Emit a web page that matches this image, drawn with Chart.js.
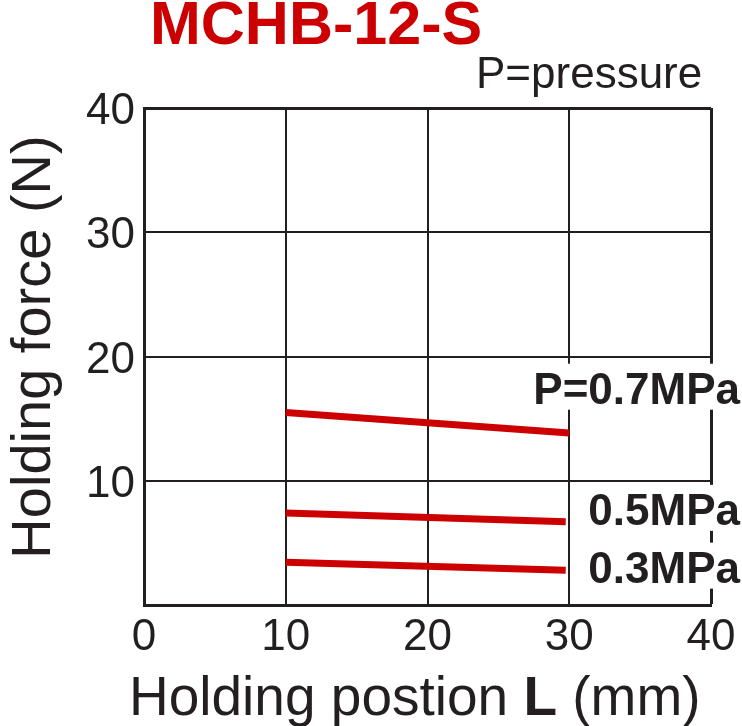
<!DOCTYPE html>
<html>
<head>
<meta charset="utf-8">
<script src="https://cdn.jsdelivr.net/npm/chart.js@4"></script>
<style>
  html, body { margin: 0; padding: 0; background: #fff; }
  #wrap { width: 742px; height: 726px; position: relative; }
</style>
</head>
<body>
<div id="wrap"><canvas id="chart" width="742" height="726"></canvas></div>
<script>
// DATA
const xTicks = [0, 10, 20, 30, 40];
const yTicks = [0, 10, 20, 30, 40];
const yTickLabels = ['', '10', '20', '30', '40']; // no "0" on the y axis

const pos07 = [10, 30];
const force07 = [15.5, 13.85];

const pos05 = [10, 29.75];
const force05 = [7.4, 6.7];

const pos03 = [10, 29.75];
const force03 = [3.45, 2.8];

const seriesLabels = ['P=0.7MPa', '0.5MPa', '0.3MPa'];
const labelBaseline = [16.2, 6.45, 1.8]; // y value where each label sits

var ink = '#231f20';
var red = '#cc0000';
var fam = '"Liberation Sans", Arial, Helvetica, sans-serif';

function pts(xs, ys) {
    return xs.map((x, i) => ({x: x, y: ys[i]}));
}

function lineSet(label, xs, ys) {
    return {
        label: label,
        data: pts(xs, ys),
        showLine: true,
        borderColor: red,
        borderWidth: 7,
        borderCapStyle: 'butt',
        pointRadius: 0,
        fill: false,
    };
}

// titles, labels, frame bits
const decor = {
    id: 'decor',
    afterDraw(chart) {
        const c = chart.ctx;
        const ys = chart.scales.y;
        c.save();

        // series labels on a white box (cuts the frame like the original)
        c.font = 'bold 44px ' + fam;
        c.textAlign = 'right';
        c.textBaseline = 'alphabetic';
        seriesLabels.forEach((t, i) => {
            const by = ys.getPixelForValue(labelBaseline[i]);
            const w = c.measureText(t).width;
            c.fillStyle = '#fff';
            c.fillRect(740 - w - 4, by - 40, w + 8, 46);
            c.fillStyle = ink;
            c.fillText(t, 740, by);
        });

        // main title
        c.textAlign = 'left';
        c.fillStyle = red;
        c.font = 'bold 61px ' + fam;
        c.fillText('MCHB-12-S', 150, 44);

        // P=pressure
        c.fillStyle = ink;
        c.font = '44px ' + fam;
        c.fillText('P=pressure', 476, 88);

        // x axis title with bold L
        let x = 129;
        const yb = 715;
        const parts = [['Holding postion ', ''], ['L', 'bold '], [' (mm)', '']];
        parts.forEach(p => {
            c.font = p[1] + '55px ' + fam;
            c.fillText(p[0], x, yb);
            x += c.measureText(p[0]).width;
        });

        // y axis title
        c.translate(50, 347);
        c.rotate(-Math.PI / 2);
        c.textAlign = 'center';
        c.font = '56px ' + fam;
        c.fillText('Holding force (N)', 0, 0);

        c.restore();
    }
};

const ctx = document.getElementById('chart').getContext('2d');
new Chart(ctx, {
    type: 'scatter',
    data: {
        datasets: [
            lineSet(seriesLabels[0], pos07, force07),
            lineSet(seriesLabels[1], pos05, force05),
            lineSet(seriesLabels[2], pos03, force03),
        ]
    },
    options: {
        responsive: false,
        animation: false,
        layout: { padding: { top: 108, right: 31, left: 0, bottom: 0 } },
        scales: {
            x: {
                type: 'linear',
                min: 0, max: 40,
                afterFit: s => { s.height = 121; },
                afterBuildTicks: s => { s.ticks = xTicks.map(v => ({value: v})); },
                grid: {
                    color: ink,
                    lineWidth: c => (c.tick && c.tick.value === 40) ? 3 : 2,
                    drawTicks: false,
                },
                border: { color: ink, width: 3 },
                ticks: {
                    color: ink,
                    font: { family: fam, size: 44 },
                    padding: 6,
                    maxRotation: 0,
                },
            },
            y: {
                type: 'linear',
                min: 0, max: 40,
                afterFit: s => { s.width = 144; },
                afterBuildTicks: s => { s.ticks = yTicks.map(v => ({value: v})); },
                grid: {
                    color: ink,
                    lineWidth: c => (c.tick && c.tick.value === 40) ? 3 : 2,
                    drawTicks: false,
                },
                border: { color: ink, width: 3 },
                ticks: {
                    color: ink,
                    font: { family: fam, size: 44 },
                    padding: 9,
                    labelOffset: 4,
                    callback: (v, i) => yTickLabels[yTicks.indexOf(v)],
                },
            },
        },
        plugins: {
            legend: { display: false },
            tooltip: { enabled: false },
        },
    },
    plugins: [decor],
});
</script>
</body>
</html>
